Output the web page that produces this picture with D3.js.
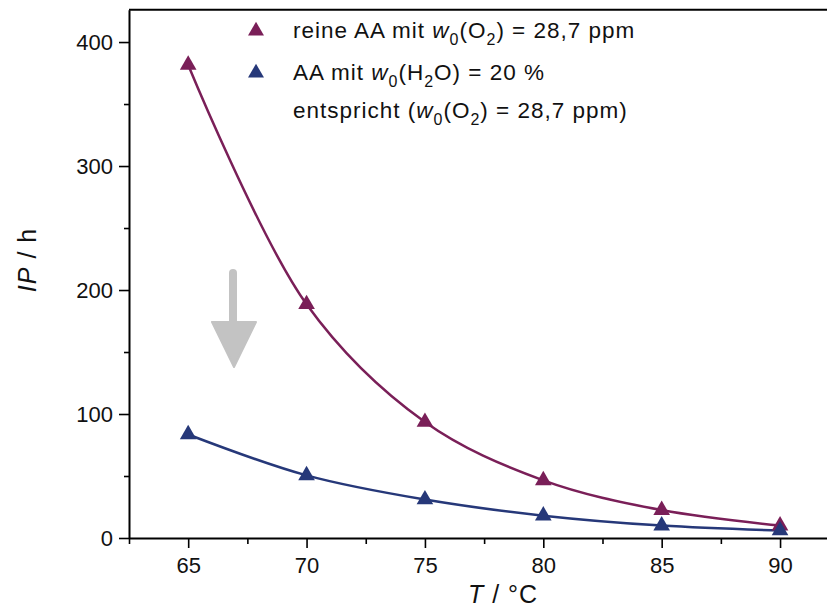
<!DOCTYPE html>
<html>
<head>
<meta charset="utf-8">
<script src="https://cdn.jsdelivr.net/npm/d3@7"></script>
<style>
  body { margin: 0; background: #fff; }
  text { font-family: "Liberation Sans", Arial, sans-serif; fill: #111; }
</style>
</head>
<body>
<svg width="827" height="610"></svg>
<script>
// data
var temps = [65, 70, 75, 80, 85, 90];
var ipPure = [381.5, 188.5, 93.5, 46.5, 22.5, 10];   // reine AA, w0(O2) = 28,7 ppm
var ipWater = [83.5, 50.5, 31, 18, 10, 6];           // AA mit w0(H2O) = 20 %
var xTicks = [65, 70, 75, 80, 85, 90];
var xMinor = [62.5, 67.5, 72.5, 77.5, 82.5, 87.5, 92.5];
var yTicks = [0, 100, 200, 300, 400];
var yMinor = [50, 150, 250, 350];

var colPure = '#7a1f58';
var colWater = '#263879';

var width = 827, height = 610;
var svg = d3.select('svg');

var x = d3.scaleLinear().domain([62.5, 92]).range([129, 827.4]);
var y = d3.scaleLinear().domain([0, 426]).range([538, 9.8]);

// frame (top line)
svg.append('line')
  .attr('x1', 129).attr('x2', width)
  .attr('y1', y(426)).attr('y2', y(426))
  .attr('stroke', '#000').attr('stroke-width', 2);

// x axis
var xAxis = svg.append('g').attr('transform', 'translate(0,' + y(0) + ')');
xAxis.call(d3.axisBottom(x).tickValues(xTicks).tickSize(10).tickSizeOuter(0).tickPadding(9));
var xMin = svg.append('g').attr('transform', 'translate(0,' + y(0) + ')');
xMin.call(d3.axisBottom(x).tickValues(xMinor).tickSize(6).tickFormat(''));
xMin.select('.domain').remove();

// y axis
var yAxis = svg.append('g').attr('transform', 'translate(' + x(62.5) + ',0)');
yAxis.call(d3.axisLeft(y).tickValues(yTicks).tickSize(10).tickSizeOuter(0).tickPadding(6));
var yMin = svg.append('g').attr('transform', 'translate(' + x(62.5) + ',0)');
yMin.call(d3.axisLeft(y).tickValues(yMinor).tickSize(5).tickFormat(''));
yMin.select('.domain').remove();

svg.selectAll('.domain').attr('stroke-width', 2);
svg.selectAll('.tick line').attr('stroke-width', 1.6);
svg.selectAll('.tick text').style('font-size', '22px').style('font-family', '"Liberation Sans", Arial, sans-serif').attr('fill', '#111');

// gray arrow
var arrow = svg.append('g');
arrow.append('line')
  .attr('x1', 233).attr('x2', 233).attr('y1', 273).attr('y2', 326)
  .attr('stroke', '#c3c3c3').attr('stroke-width', 8).attr('stroke-linecap', 'round');
arrow.append('path')
  .attr('d', 'M212,322 L256,322 L234,367 Z')
  .attr('fill', '#c3c3c3').attr('stroke', '#c3c3c3').attr('stroke-width', 2).attr('stroke-linejoin', 'round');

// curves
var line = d3.line()
  .x(function(d) { return x(d[0]); })
  .y(function(d) { return y(d[1]); })
  .curve(d3.curveCatmullRom.alpha(0.5));

var series = [
  {name: 'pure', values: ipPure, color: colPure},
  {name: 'water', values: ipWater, color: colWater}
];

var tri = d3.symbol().type(d3.symbolTriangle).size(120);

series.forEach(function(s) {
  var pts = temps.map(function(t, i) { return [t, s.values[i]]; });
  svg.append('path')
    .datum(pts)
    .attr('d', line)
    .attr('fill', 'none')
    .attr('stroke', s.color)
    .attr('stroke-width', 2.5);
});
series.forEach(function(s) {
  var pts = temps.map(function(t, i) { return [t, s.values[i]]; });
  svg.selectAll('path.m-' + s.name)
    .data(pts)
    .enter().append('path')
    .attr('class', 'm-' + s.name)
    .attr('d', tri)
    .attr('transform', function(d) { return 'translate(' + x(d[0]) + ',' + y(d[1]) + ')'; })
    .attr('fill', s.color);
});

// legend
function richText(g, xPos, yPos, parts) {
  var t = g.append('text').attr('x', xPos).attr('y', yPos)
    .style('font-size', '22.5px').style('letter-spacing', '1px');
  parts.forEach(function(p) {
    var ts = t.append('tspan').text(p.t);
    if (p.i) ts.style('font-style', 'italic');
    if (p.sub) ts.style('font-size', '16px').attr('dy', 7);
    if (p.up) ts.attr('dy', -7);
  });
  return t;
}
var legTri = d3.symbol().type(d3.symbolTriangle).size(110);
var leg = svg.append('g');
leg.append('path').attr('d', legTri).attr('transform', 'translate(256,31)').attr('fill', colPure);
leg.append('path').attr('d', legTri).attr('transform', 'translate(256,73)').attr('fill', colWater);
richText(leg, 293, 38, [
  {t: 'reine AA mit '}, {t: 'w', i: true}, {t: '0', sub: true}, {t: '(O', up: true},
  {t: '2', sub: true}, {t: ') = 28,7 ppm', up: true}
]);
richText(leg, 293, 80, [
  {t: 'AA mit '}, {t: 'w', i: true}, {t: '0', sub: true}, {t: '(H', up: true},
  {t: '2', sub: true}, {t: 'O) = 20 %', up: true}
]);
richText(leg, 293, 118, [
  {t: 'entspricht ('}, {t: 'w', i: true}, {t: '0', sub: true}, {t: '(O', up: true},
  {t: '2', sub: true}, {t: ') = 28,7 ppm)', up: true}
]);

// axis titles
var xt = svg.append('text').attr('x', 503).attr('y', 603).attr('text-anchor', 'middle')
  .style('font-size', '25px').style('letter-spacing', '1px');
xt.append('tspan').text('T').style('font-style', 'italic');
xt.append('tspan').text(' /  °C');

var yt = svg.append('text')
  .attr('transform', 'translate(36,260) rotate(-90)')
  .attr('text-anchor', 'middle').style('font-size', '25px').style('letter-spacing', '1px');
yt.append('tspan').text('IP').style('font-style', 'italic');
yt.append('tspan').text(' / h');
</script>
</body>
</html>
